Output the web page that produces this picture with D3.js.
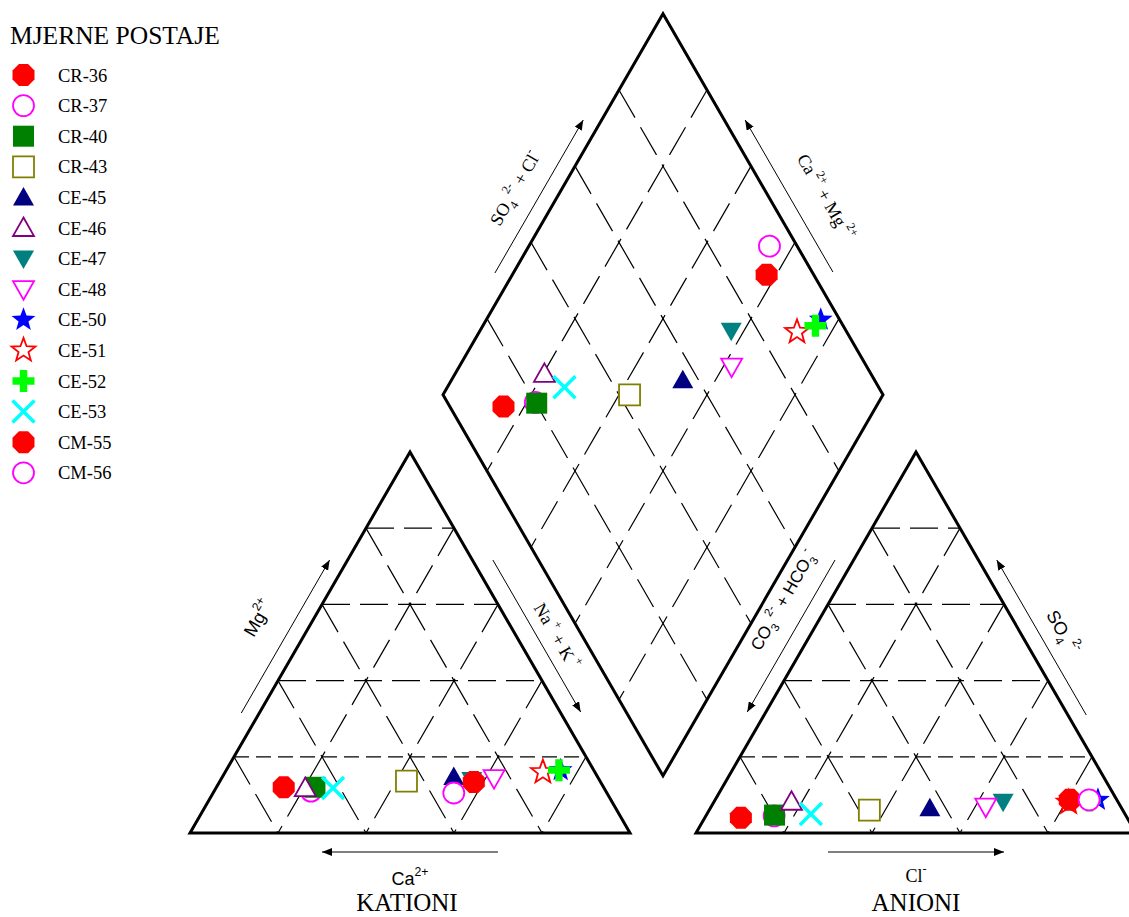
<!DOCTYPE html>
<html><head><meta charset="utf-8">
<script src="https://cdn.jsdelivr.net/npm/d3@7"></script>
<style>body{margin:0;background:#fff}svg{display:block}</style>
</head><body>
<svg id="chart" width="1129" height="917"></svg>
<script>
// ---------------- DATA ----------------
const stations = ["CR-36","CR-37","CR-40","CR-43","CE-45","CE-46","CE-47","CE-48","CE-50","CE-51","CE-52","CE-53","CM-55","CM-56"];
// cations (% meq/l)
const caPct   = [72.7, 67.0, 65.6, 44.0, 32.7, 67.9, 29.0, 23.7,  7.5, 11.8,  7.9, 61.6, 28.8, 34.8];
const mgPct   = [12.0, 11.0, 12.0, 13.6, 14.7, 11.8, 13.9, 14.4, 16.5, 16.0, 16.5, 11.8, 13.4, 10.5];
const naKPct  = [15.3, 22.0, 22.4, 42.4, 52.6, 20.3, 57.1, 61.9, 76.0, 72.2, 75.6, 26.6, 57.8, 54.7];
// anions (% meq/l)
const hco3Pct = [87.8, 80.0, 79.8, 57.6, 43.6, 74.2, 26.1, 30.7,  4.3, 11.3,  6.3, 71.4, 10.7,  6.3];
const so4Pct  = [ 4.0,  4.5,  4.7,  6.0,  6.5,  8.2,  8.2,  6.9,  8.7,  8.0,  8.5,  5.0,  8.7,  8.7];
const clPct   = [ 8.2, 15.5, 15.5, 36.4, 49.9, 17.6, 65.7, 62.4, 87.0, 80.7, 85.2, 23.6, 80.6, 85.0];
const gridTicks = [20, 40, 60, 80];

// marker styles
const shapes = ["octagon","circle","square","square","triangle","triangle","triangleDown","triangleDown","star","star","plus","x","octagon","circle"];
const colors = ["#FF0000","#FF00FF","#008000","#808000","#000080","#800080","#008080","#FF00FF","#0000FF","#FF0000","#00FF00","#00FFFF","#FF0000","#FF00FF"];
const filled = [true,false,true,false,true,false,true,false,true,false,true,false,true,false];

// ---------------- LAYOUT ----------------
const SERIF = "'Liberation Serif','Times New Roman',serif";
const SANS = "'Liberation Sans',Arial,sans-serif";
const svg = d3.select("#chart");
const S = 440, H = S * Math.sqrt(3) / 2, GAP = 66;
const base = 833, catX0 = 190, anX0 = catX0 + S + GAP;
const dBx = catX0 + S + GAP / 2, dBy = base - GAP * Math.sqrt(3) / 2;

const catX = d3.scaleLinear().domain([0, 100]).range([catX0, catX0 + S]);
const anX  = d3.scaleLinear().domain([0, 100]).range([anX0, anX0 + S]);
const triY = d3.scaleLinear().domain([0, 100]).range([base, base - H]);
const dX = d3.scaleLinear().domain([-100, 100]).range([dBx - S / 2, dBx + S / 2]);
const dY = d3.scaleLinear().domain([0, 200]).range([dBy, dBy - 2 * H]);

const catPt = (na, mg) => [catX(na + mg / 2), triY(mg)];
const anPt  = (cl, so4) => [anX(cl + so4 / 2), triY(so4)];
const diaPt = (camg, so4cl) => [dX(so4cl - camg), dY(camg + so4cl)];

const defs = svg.append("defs");
defs.append("marker").attr("id", "ah").attr("viewBox", "0 0 10 8")
  .attr("refX", 10).attr("refY", 4).attr("markerWidth", 10).attr("markerHeight", 8)
  .attr("markerUnits", "userSpaceOnUse").attr("orient", "auto")
  .append("path").attr("d", "M0,0L10,4L0,8Z").attr("fill", "#000");

const gGrid = svg.append("g").attr("stroke", "#000").attr("stroke-width", 1.2).attr("fill", "none");
function seg(p, q, dash) {
  gGrid.append("line").attr("x1", p[0]).attr("y1", p[1]).attr("x2", q[0]).attr("y2", q[1])
    .attr("stroke-dasharray", dash);
}
const DIAG = "32,11";
gridTicks.forEach(t => {
  const hd = t === 20 ? "15,7" : "28,10";
  // cation triangle
  seg(catPt(0, t), catPt(100 - t, t), hd);
  seg(catPt(t, 100 - t), catPt(t, 0), DIAG);
  seg(catPt(0, 100 - t), catPt(100 - t, 0), DIAG);
  // anion triangle
  seg(anPt(0, t), anPt(100 - t, t), hd);
  seg(anPt(t, 100 - t), anPt(t, 0), DIAG);
  seg(anPt(0, 100 - t), anPt(100 - t, 0), DIAG);
  // diamond
  seg(diaPt(t, 100), diaPt(t, 0), DIAG);
  seg(diaPt(100, t), diaPt(0, t), DIAG);
});

const gOut = svg.append("g").attr("stroke", "#000").attr("stroke-width", 3)
  .attr("fill", "none").attr("stroke-linejoin", "miter");
gOut.append("path").attr("d", d3.line()([catPt(0, 0), catPt(100, 0), catPt(0, 100)]) + "Z");
gOut.append("path").attr("d", d3.line()([anPt(0, 0), anPt(100, 0), anPt(0, 100)]) + "Z");
gOut.append("path").attr("d", d3.line()([diaPt(0, 0), diaPt(100, 0), diaPt(100, 100), diaPt(0, 100)]) + "Z");

// arrows parallel to edges
function edgeX(A, B, y) { return A[0] + (B[0] - A[0]) * (y - A[1]) / (B[1] - A[1]); }
function arrow(A, B, y0, y1, dx) {
  svg.append("line").attr("x1", edgeX(A, B, y0) + dx).attr("y1", y0)
    .attr("x2", edgeX(A, B, y1) + dx).attr("y2", y1)
    .attr("stroke", "#000").attr("stroke-width", 1).attr("marker-end", "url(#ah)");
}
arrow(catPt(0, 0), catPt(0, 100), 713, 560, -18);
arrow(catPt(0, 100), catPt(100, 0), 560, 712, 20.5);
arrow(diaPt(100, 0), diaPt(100, 100), 273, 120, -18.4);
arrow(diaPt(100, 100), diaPt(0, 100), 272, 120, 20.8);
arrow(anPt(0, 0), anPt(0, 100), 560, 712, -18.6);
arrow(anPt(0, 100), anPt(100, 0), 715, 560, 18.4);
svg.append("line").attr("x1", catX(70)).attr("x2", catX(30)).attr("y1", base + 19).attr("y2", base + 19)
  .attr("stroke", "#000").attr("stroke-width", 1).attr("marker-end", "url(#ah)");
svg.append("line").attr("x1", anX(30)).attr("x2", anX(70)).attr("y1", base + 19).attr("y2", base + 19)
  .attr("stroke", "#000").attr("stroke-width", 1).attr("marker-end", "url(#ah)");

// rich text helper
function rich(x, y, rot, parts, size, font) {
  const g = svg.append("g").attr("transform", `translate(${x},${y}) rotate(${rot})`);
  const text = g.append("text").attr("text-anchor", "middle").attr("y", size * 0.35)
    .attr("font-family", font).attr("font-size", size).attr("fill", "#000");
  let cur = 0;
  parts.forEach(([s, m]) => {
    const off = m === "sup" ? -0.5 * size : m === "sub" ? 0.3 * size : 0;
    const fs = m === "n" ? size : size * 0.68;
    text.append("tspan").attr("dy", off - cur).attr("font-size", fs).text(s);
    cur = off;
  });
  return text;
}
rich(258, 618, -60, [["Mg", "n"], ["2+", "sup"]], 18, SANS);
rich(557, 636, 60, [["Na", "n"], [" +", "sup"], [" + K", "n"], [" +", "sup"]], 18, SERIF);
rich(515, 188, -60, [["SO", "n"], ["4", "sub"], [" 2-", "sup"], [" + Cl", "n"], ["-", "sup"]], 18, SERIF);
rich(826, 197, 60, [["Ca", "n"], [" 2+", "sup"], [" + Mg", "n"], [" 2+", "sup"]], 18, SERIF);
rich(783, 600, -60, [["CO", "n"], ["3", "sub"], [" 2-", "sup"], [" + HCO", "n"], ["3", "sub"], ["-", "sup"]], 17, SANS);
rich(1063, 632, 60, [["SO", "n"], ["4", "sub"], [" 2-", "sup"]], 18, SANS);
rich(catX(50), base + 46, 0, [["Ca", "n"], ["2+", "sup"]], 18, SANS);
rich(anX(50), base + 43, 0, [["Cl", "n"], ["-", "sup"]], 18, SERIF);
svg.append("text").attr("x", catX(50) - 3).attr("y", 911).attr("text-anchor", "middle")
  .attr("font-family", SERIF).attr("font-size", 25).text("KATIONI");
svg.append("text").attr("x", anX(50)).attr("y", 911).attr("text-anchor", "middle")
  .attr("font-family", SERIF).attr("font-size", 25).text("ANIONI");

// markers
function markerPath(shape) {
  const pts = (arr) => "M" + arr.map(p => p.join(",")).join("L") + "Z";
  switch (shape) {
    case "octagon": {
      const r = 11.9;
      return pts(d3.range(8).map(k => {
        const a = (22.5 + 45 * k) * Math.PI / 180; return [r * Math.cos(a), r * Math.sin(a)];
      }));
    }
    case "circle": return "M10.5,0A10.5,10.5 0 1,1 -10.5,0A10.5,10.5 0 1,1 10.5,0Z";
    case "square": return pts([[-10.5, -10.5], [10.5, -10.5], [10.5, 10.5], [-10.5, 10.5]]);
    case "triangle": return pts([[0, -10.5], [10.5, 8], [-10.5, 8]]);
    case "triangleDown": return pts([[0, 10.5], [10.5, -8], [-10.5, -8]]);
    case "star": {
      const R = 12.5, r = 5.2;
      return pts(d3.range(10).map(k => {
        const a = (-90 + 36 * k) * Math.PI / 180, rr = k % 2 ? r : R;
        return [rr * Math.cos(a), rr * Math.sin(a)];
      }));
    }
    case "plus": {
      const a = 3.7, b = 11;
      return pts([[-a, -b], [a, -b], [a, -a], [b, -a], [b, a], [a, a], [a, b], [-a, b], [-a, a], [-b, a], [-b, -a], [-a, -a]]);
    }
    case "x": return "M-11,-11L11,11M11,-11L-11,11";
  }
}
function drawMarker(g, i, x, y) {
  const sh = shapes[i];
  const p = g.append("path").attr("d", markerPath(sh)).attr("transform", `translate(${x},${y})`);
  if (sh === "x") p.attr("fill", "none").attr("stroke", colors[i]).attr("stroke-width", 3.5);
  else if (filled[i]) p.attr("fill", colors[i]).attr("stroke", "none");
  else p.attr("fill", "#fff").attr("stroke", colors[i]).attr("stroke-width", 1.8);
}
const gPts = svg.append("g");
stations.forEach((s, i) => {
  const c = catPt(naKPct[i], mgPct[i]);
  drawMarker(gPts, i, c[0], c[1]);
  const a = anPt(clPct[i], so4Pct[i]);
  drawMarker(gPts, i, a[0], a[1]);
  const d = diaPt(caPct[i] + mgPct[i], so4Pct[i] + clPct[i]);
  drawMarker(gPts, i, d[0], d[1]);
});

// legend
const leg = svg.append("g");
leg.append("text").attr("x", 10).attr("y", 44).attr("font-family", SERIF).attr("font-size", 25.5)
  .text("MJERNE POSTAJE");
stations.forEach((s, i) => {
  const y = 75 + i * 30.6;
  drawMarker(leg, i, 23.5, y);
  leg.append("text").attr("x", 58).attr("y", y + 6.5).attr("font-family", SERIF)
    .attr("font-size", 18.5).text(s);
});
</script>
</body></html>
